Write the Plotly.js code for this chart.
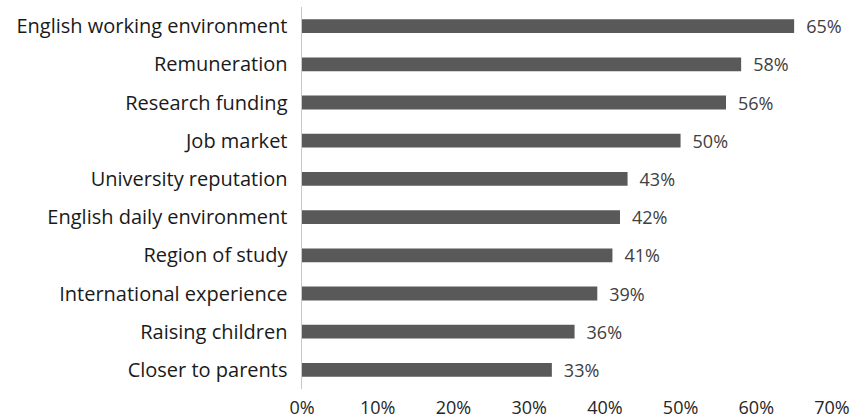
<!DOCTYPE html>
<html>
<head>
<meta charset="utf-8">
<script src="https://cdn.plot.ly/plotly-3.0.1.min.js"></script>
<style>
  html, body { margin: 0; padding: 0; background: #ffffff; }
  #chart { width: 858px; height: 419px; }
</style>
</head>
<body>
<div id="chart"></div>
<script>
// Reasons cited, share of respondents (%)
const reasons = [
  "English working environment",
  "Remuneration",
  "Research funding",
  "Job market",
  "University reputation",
  "English daily environment",
  "Region of study",
  "International experience",
  "Raising children",
  "Closer to parents"
];
const shares = [65, 58, 56, 50, 43, 42, 41, 39, 36, 33];
const xTicks = [0, 10, 20, 30, 40, 50, 60, 70];

const FONT = "'Open Sans', 'Noto Sans', sans-serif";

const trace = {
  type: "bar",
  orientation: "h",
  y: reasons,
  x: shares,
  width: 0.36,
  marker: { color: "#595959", line: { width: 0 } },
  // en space keeps the value label clear of the bar end
  text: shares.map(v => "\u2002" + v + "%"),
  textposition: "outside",
  constraintext: "none",
  cliponaxis: false,
  textfont: { family: FONT, size: 18, color: "#404040" },
  hoverinfo: "none"
};

const layout = {
  width: 858,
  height: 419,
  margin: { l: 302, r: 26, t: 7, b: 30 },
  paper_bgcolor: "#ffffff",
  plot_bgcolor: "#ffffff",
  showlegend: false,
  font: { family: FONT, color: "#262626" },
  xaxis: {
    range: [0, 70],
    tickvals: xTicks,
    ticktext: xTicks.map(v => v + "%"),
    showgrid: false,
    zeroline: false,
    showline: false,
    ticks: "",
    ticklabelstandoff: 6,
    tickfont: { size: 18, color: "#262626" },
    fixedrange: true
  },
  yaxis: {
    type: "category",
    autorange: "reversed",
    showgrid: false,
    zeroline: false,
    showline: true,
    linecolor: "#c8c8c8",
    linewidth: 1.5,
    ticks: "",
    ticklabelstandoff: 9,
    tickfont: { size: 20, color: "#1a1a1a" },
    fixedrange: true
  }
};

Plotly.newPlot("chart", [trace], layout, { displayModeBar: false, staticPlot: true });
</script>
</body>
</html>
